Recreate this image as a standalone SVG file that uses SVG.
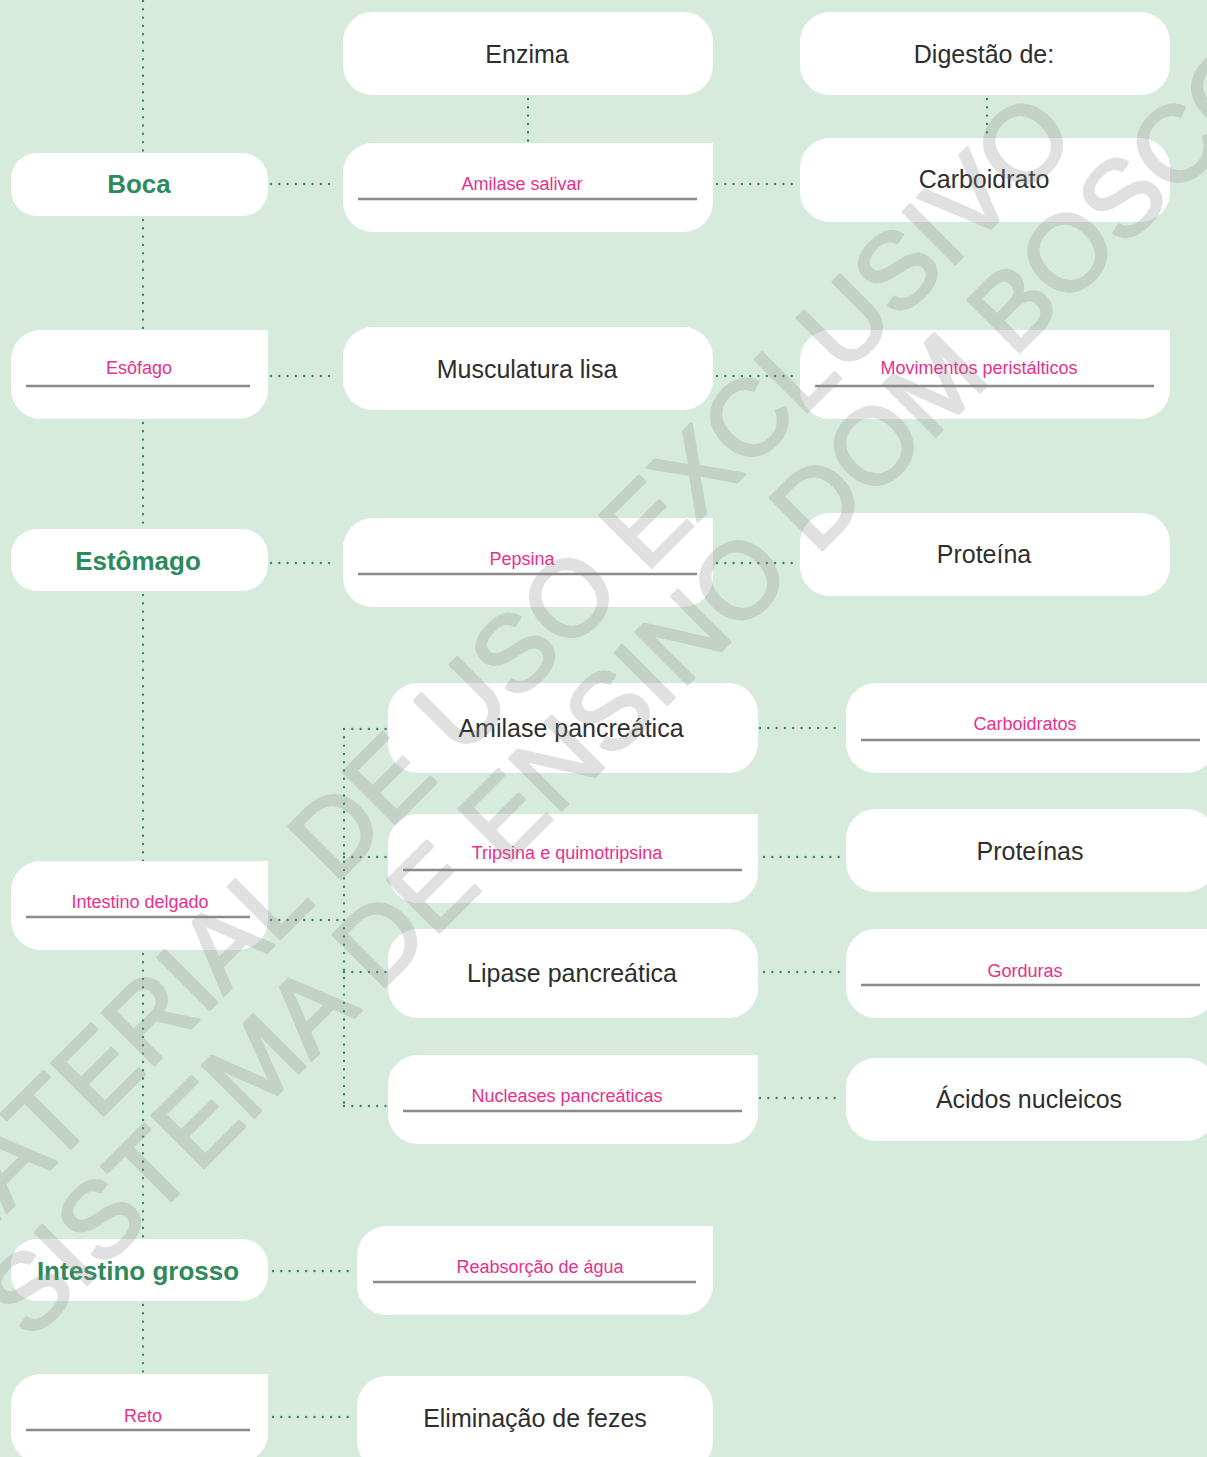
<svg xmlns="http://www.w3.org/2000/svg" width="1207" height="1457" viewBox="0 0 1207 1457">
  <style>
    .box { fill: #ffffff; }
    .rule { stroke: #8a8a8a; stroke-width: 2.4; fill: none; }
    .dot { stroke: #2f8a5f; stroke-width: 2.4; stroke-linecap: round; stroke-dasharray: 0 8.3; fill: none; }
    .organ { font-family: "Liberation Sans", Arial, sans-serif; font-weight: bold; font-size: 26px; fill: #2d8a5c; text-anchor: middle; }
    .label { font-family: "Liberation Sans", Arial, sans-serif; font-size: 25px; fill: #2e2e2e; text-anchor: middle; }
    .answer { font-family: "Liberation Sans", Arial, sans-serif; font-size: 18px; fill: #e8308c; text-anchor: middle; }
    .wm { font-family: "Liberation Sans", Arial, sans-serif; font-size: 107px; fill: #8f8f8f; stroke: #8f8f8f; stroke-width: 3; stroke-linejoin: round; }
  </style>

  <rect width="1207" height="1457" fill="#d7ebdd"/>

  <!-- dotted connectors -->
  <g id="connectors">
    <!-- organ spine -->
    <path class="dot" d="M143,1 V153 M143,220 V330 M143,423 V529 M143,595 V861 M143,954 V1239 M143,1305 V1374"/>
    <!-- headers -->
    <path class="dot" d="M528,99 V143 M987,99 V138"/>
    <!-- rows -->
    <path class="dot" d="M271,184 H337 M717,184 H798"/>
    <path class="dot" d="M271,376 H337 M717,376 H798"/>
    <path class="dot" d="M271,563 H337 M717,563 H798"/>
    <!-- pancreatic bracket -->
    <path class="dot" d="M271,920 H344 M344,729 V1106 M344,729 H386 M344,857 H386 M344,972 H386 M344,1106 H386"/>
    <path class="dot" d="M760,728 H843 M764,857 H841 M764,972 H841 M760,1098 H843"/>
    <!-- large intestine / rectum -->
    <path class="dot" d="M273,1271 H355 M273,1417 H355"/>
  </g>

  <!-- left column: organs -->
  <g id="boca"><rect class="box" x="11" y="153" width="257" height="63" rx="26"/><text class="organ" x="139" y="193">Boca</text></g>
  <g id="esofago"><path class="box" d="M41,330 H268 V389 A30,30 0 0 1 238,419 H41 A30,30 0 0 1 11,389 V360 A30,30 0 0 1 41,330 Z"/><line class="rule" x1="26" y1="386" x2="250" y2="386"/><text class="answer" x="139" y="374">Esôfago</text></g>
  <g id="estomago"><rect class="box" x="11" y="529" width="257" height="62" rx="26"/><text class="organ" x="138" y="570">Estômago</text></g>
  <g id="intestino-delgado"><path class="box" d="M41,861 H268 V920 A30,30 0 0 1 238,950 H41 A30,30 0 0 1 11,920 V891 A30,30 0 0 1 41,861 Z"/><line class="rule" x1="26" y1="917" x2="250" y2="917"/><text class="answer" x="140" y="908">Intestino delgado</text></g>
  <g id="intestino-grosso"><rect class="box" x="11" y="1239" width="257" height="62" rx="26"/><text class="organ" x="138" y="1280">Intestino grosso</text></g>
  <g id="reto"><path class="box" d="M41,1374 H268 V1433 A30,30 0 0 1 238,1463 H41 A30,30 0 0 1 11,1433 V1404 A30,30 0 0 1 41,1374 Z"/><line class="rule" x1="26" y1="1430" x2="250" y2="1430"/><text class="answer" x="143" y="1422">Reto</text></g>

  <!-- middle column -->
  <g id="enzima"><rect class="box" x="343" y="12" width="370" height="83" rx="30"/><text class="label" x="527" y="63">Enzima</text></g>
  <g id="amilase-salivar"><path class="box" d="M373,143 H713 V202 A30,30 0 0 1 683,232 H373 A30,30 0 0 1 343,202 V173 A30,30 0 0 1 373,143 Z"/><line class="rule" x1="358" y1="199" x2="697" y2="199"/><text class="answer" x="522" y="190">Amilase salivar</text></g>
  <g id="musculatura"><rect class="box" x="343" y="327" width="370" height="83" rx="30"/><text class="label" x="527" y="378">Musculatura lisa</text></g>
  <g id="pepsina"><path class="box" d="M373,518 H713 V577 A30,30 0 0 1 683,607 H373 A30,30 0 0 1 343,577 V548 A30,30 0 0 1 373,518 Z"/><line class="rule" x1="358" y1="574" x2="697" y2="574"/><text class="answer" x="522" y="565">Pepsina</text></g>

  <!-- pancreatic enzymes -->
  <g id="amilase-pancreatica"><rect class="box" x="388" y="683" width="370" height="90" rx="30"/><text class="label" x="571" y="737">Amilase pancreática</text></g>
  <g id="tripsina"><path class="box" d="M418,814 H758 V873 A30,30 0 0 1 728,903 H418 A30,30 0 0 1 388,873 V844 A30,30 0 0 1 418,814 Z"/><line class="rule" x1="403" y1="870" x2="742" y2="870"/><text class="answer" x="567" y="859">Tripsina e quimotripsina</text></g>
  <g id="lipase"><rect class="box" x="388" y="929" width="370" height="89" rx="30"/><text class="label" x="572" y="982">Lipase pancreática</text></g>
  <g id="nucleases"><path class="box" d="M418,1055 H758 V1114 A30,30 0 0 1 728,1144 H418 A30,30 0 0 1 388,1114 V1085 A30,30 0 0 1 418,1055 Z"/><line class="rule" x1="403" y1="1111" x2="742" y2="1111"/><text class="answer" x="567" y="1102">Nucleases pancreáticas</text></g>

  <!-- large intestine / rectum functions -->
  <g id="reabsorcao"><path class="box" d="M387,1226 H713 V1285 A30,30 0 0 1 683,1315 H387 A30,30 0 0 1 357,1285 V1256 A30,30 0 0 1 387,1226 Z"/><line class="rule" x1="373" y1="1282" x2="696" y2="1282"/><text class="answer" x="540" y="1273">Reabsorção de água</text></g>
  <g id="eliminacao"><rect class="box" x="357" y="1376" width="356" height="95" rx="30"/><text class="label" x="535" y="1427">Eliminação de fezes</text></g>

  <!-- right column -->
  <g id="digestao"><rect class="box" x="800" y="12" width="370" height="83" rx="30"/><text class="label" x="984" y="63">Digestão de:</text></g>
  <g id="carboidrato"><rect class="box" x="800" y="138" width="370" height="84" rx="30"/><text class="label" x="984" y="188">Carboidrato</text></g>
  <g id="movimentos"><path class="box" d="M830,330 H1170 V389 A30,30 0 0 1 1140,419 H830 A30,30 0 0 1 800,389 V360 A30,30 0 0 1 830,330 Z"/><line class="rule" x1="815" y1="386" x2="1154" y2="386"/><text class="answer" x="979" y="374">Movimentos peristálticos</text></g>
  <g id="proteina"><rect class="box" x="800" y="513" width="370" height="83" rx="30"/><text class="label" x="984" y="563">Proteína</text></g>

  <g id="carboidratos"><path class="box" d="M876,683 H1216 V743 A30,30 0 0 1 1186,773 H876 A30,30 0 0 1 846,743 V713 A30,30 0 0 1 876,683 Z"/><line class="rule" x1="861" y1="740" x2="1200" y2="740"/><text class="answer" x="1025" y="730">Carboidratos</text></g>
  <g id="proteinas"><rect class="box" x="846" y="809" width="370" height="83" rx="30"/><text class="label" x="1030" y="860">Proteínas</text></g>
  <g id="gorduras"><path class="box" d="M876,929 H1216 V988 A30,30 0 0 1 1186,1018 H876 A30,30 0 0 1 846,988 V959 A30,30 0 0 1 876,929 Z"/><line class="rule" x1="861" y1="985" x2="1200" y2="985"/><text class="answer" x="1025" y="977">Gorduras</text></g>
  <g id="acidos"><rect class="box" x="846" y="1058" width="370" height="83" rx="30"/><text class="label" x="1029" y="1108">Ácidos nucleicos</text></g>

  <!-- diagonal watermark -->
  <g opacity="0.27">
    <text class="wm" transform="rotate(-45)" x="-942" y="862">MATERIAL DE USO EXCLUSIVO</text>
    <text class="wm" transform="rotate(-45)" x="-928" y="970">SISTEMA DE ENSINO DOM BOSCO</text>
  </g>
</svg>
